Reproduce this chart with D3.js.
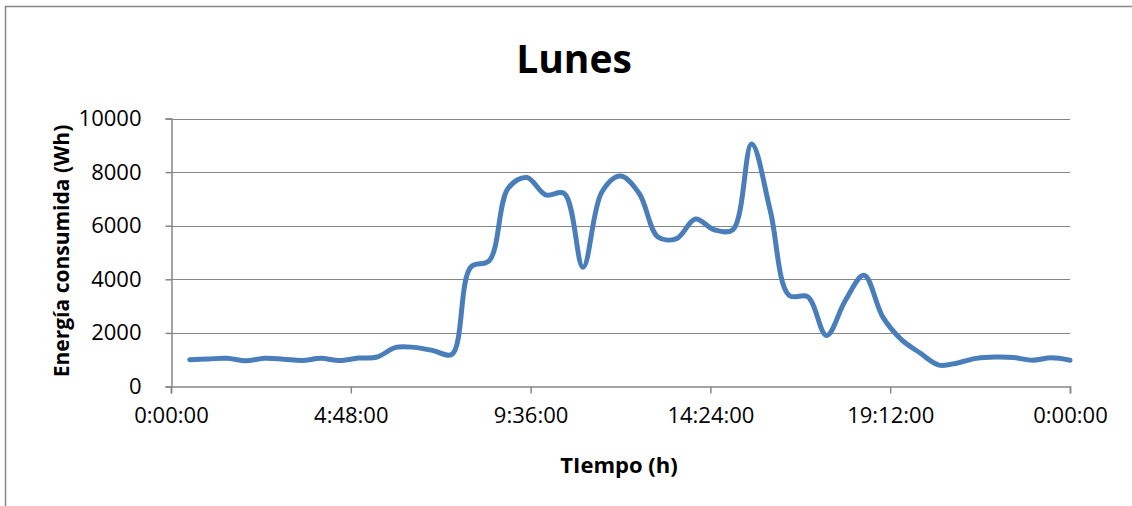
<!DOCTYPE html>
<html>
<head>
<meta charset="utf-8">
<script src="https://cdn.jsdelivr.net/npm/d3@7"></script>
<style>
  body { margin: 0; background: #fff; }
  svg { display: block; font-family: "Open Sans", sans-serif; }
</style>
</head>
<body>
<div id="chartContainer"></div>
<script>
var width = 1132;
var height = 506;

// energy used every half hour, from 0:30 to 24:00 (Wh)
var horas = d3.range(1, 49).map(function(i) { return i / 2; });
var energia = [
  1000, 1030, 1050, 960, 1050, 1020, 970, 1050, 970, 1060,
  1100, 1460, 1460, 1340, 1200, 4450, 4700, 7400, 7800, 7150,
  7200, 4450, 7250, 7850, 7200, 5580, 5520, 6250, 5850, 5850,
  9050, 6550, 3400, 3350, 1900, 3200, 4150, 2600, 1750, 1250,
  800, 880, 1050, 1100, 1080, 980, 1070, 980
];

var xTicks = [0, 4.8, 9.6, 14.4, 19.2, 24];
var xTickLabels = ["0:00:00", "4:48:00", "9:36:00", "14:24:00", "19:12:00", "0:00:00"];
var yTicks = [0, 2000, 4000, 6000, 8000, 10000];

var plot = { left: 171, right: 1070, top: 118.5, bottom: 386.5 };
var gray = "#868686";

var svg = d3.select('#chartContainer')
    .append('svg')
    .attr("width", width)
    .attr("height", height);

// chart border (cut off on the right and bottom like the picture)
svg.append("rect")
    .attr("x", 5.5).attr("y", 6.5)
    .attr("width", width + 10).attr("height", height + 10)
    .attr("fill", "none")
    .attr("stroke", gray)
    .attr("stroke-width", 1.5);

var xScale = d3.scaleLinear().domain([0, 24]).range([plot.left, plot.right]);
var yScale = d3.scaleLinear().domain([0, 10000]).range([plot.bottom, plot.top]);

// horizontal gridlines
svg.append("g").selectAll("line")
    .data(yTicks.slice(1))
    .enter().append("line")
    .attr("x1", plot.left).attr("x2", plot.right)
    .attr("y1", function(d) { return Math.round(yScale(d)) + 0.5; })
    .attr("y2", function(d) { return Math.round(yScale(d)) + 0.5; })
    .attr("stroke", gray);

// y axis
var yAxis = d3.axisLeft(yScale).tickValues(yTicks).tickSize(6).tickPadding(24)
    .tickFormat(d3.format("d"));
var yAxisGroup = svg.append("g").attr("transform", "translate(" + (plot.left + 0.5) + ",0)");
yAxis(yAxisGroup);

// x axis
var xAxis = d3.axisBottom(xScale).tickValues(xTicks).tickSize(7).tickPadding(14)
    .tickFormat(function(d, i) { return xTickLabels[i]; });
var xAxisGroup = svg.append("g").attr("transform", "translate(0," + (plot.bottom) + ")");
xAxis(xAxisGroup);

svg.selectAll(".domain").attr("stroke", gray).attr("stroke-width", 1.5);
svg.selectAll(".tick line").attr("stroke", gray).attr("stroke-width", 1.5);
svg.selectAll(".tick text")
    .attr("fill", "#000")
    .style("font-family", "'Open Sans', sans-serif")
    .style("font-size", "22px");

// line
var lineFunc = d3.line()
    .x(function(d, i) { return xScale(horas[i]); })
    .y(function(d) { return yScale(d); })
    .curve(d3.curveCatmullRom.alpha(0.5));

svg.append("path")
    .attr("d", lineFunc(energia))
    .attr("fill", "none")
    .attr("stroke", "#4a7ebb")
    .attr("stroke-width", 5)
    .attr("stroke-linejoin", "round")
    .attr("stroke-linecap", "round");

// titles
svg.append("text")
    .attr("x", 574).attr("y", 73)
    .attr("text-anchor", "middle")
    .style("font-size", "39px").style("font-weight", "bold")
    .text("Lunes");

svg.append("text")
    .attr("x", 619).attr("y", 473)
    .attr("text-anchor", "middle")
    .style("font-size", "22px").style("font-weight", "bold")
    .text("TIempo (h)");

svg.append("text")
    .attr("transform", "translate(69,251) rotate(-90)")
    .attr("text-anchor", "middle")
    .style("font-size", "21px").style("font-weight", "bold")
    .text("Energía consumida (Wh)");
</script>
</body>
</html>
